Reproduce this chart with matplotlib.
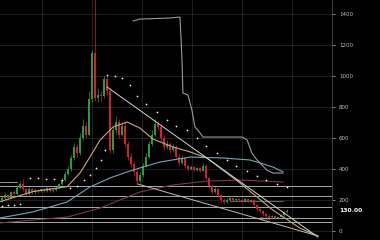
import numpy as np
import matplotlib
matplotlib.use('Agg')
import matplotlib.pyplot as plt

# ---------------- data ----------------
open_first = 200
close = [210, 230, 215, 250, 240, 280, 300, 270, 240, 270, 250, 265, 255, 270, 260, 275,
         260, 265, 280, 300, 330, 370, 400, 470, 540, 500, 600, 680, 620, 850, 1150, 860,
         880, 870, 980, 900, 520, 650, 700, 620, 680, 560, 480, 430, 380, 320, 360, 420,
         480, 560, 620, 690, 670, 600, 540, 560, 520, 540, 480, 440, 470, 420, 400, 410,
         395, 405, 390, 420, 340, 290, 250, 270, 230, 200, 185, 200, 210, 200, 205, 200,
         195, 205, 195, 200, 170, 140, 130, 110, 100, 90, 95, 85, 90, 105, 120, 130]
high = [225, 245, 240, 260, 262, 295, 325, 335, 280, 282, 278, 275, 272, 280, 276, 285,
        280, 275, 290, 310, 345, 385, 420, 490, 570, 560, 630, 720, 700, 900, 1170, 1800,
        920, 900, 1000, 1000, 920, 680, 740, 720, 700, 700, 580, 500, 450, 395, 380, 440,
        500, 580, 650, 720, 710, 690, 620, 590, 575, 560, 555, 495, 490, 480, 430, 425,
        420, 415, 415, 440, 430, 350, 300, 285, 275, 240, 210, 210, 218, 215, 212, 210,
        205, 212, 210, 208, 205, 175, 150, 135, 118, 108, 102, 100, 98, 112, 128, 140]
low = [190, 200, 205, 210, 228, 235, 272, 260, 225, 232, 238, 240, 245, 250, 250, 252,
       250, 252, 258, 275, 295, 325, 360, 390, 460, 480, 490, 590, 600, 610, 830, 840,
       830, 840, 860, 880, 500, 500, 630, 600, 610, 540, 460, 410, 360, 300, 310, 350,
       410, 470, 550, 610, 650, 580, 520, 530, 500, 510, 465, 425, 430, 405, 385, 395,
       385, 385, 380, 385, 330, 280, 240, 245, 220, 190, 175, 180, 195, 192, 195, 192,
       188, 190, 188, 190, 160, 130, 120, 100, 92, 80, 85, 72, 80, 86, 100, 115]

# overlay series (x in candle index, y in price)
gray_x = [43.7, 46, 56, 59.3, 59.7, 60, 60.3, 62, 63.3, 64.3, 65.3, 67, 80, 81.7, 83.3, 85, 88.3, 90.3, 93.7]
gray_y = [1355, 1367, 1374, 1380, 1232, 1103, 890, 877, 780, 671, 651, 606, 606, 587, 503, 458, 393, 374, 374]

tan_x = [-0.7, 10.3, 21.7, 26, 29.3, 32.7, 37, 41.7, 46, 50.3, 57, 62.7, 68.3, 79.3, 90.3, 99.3, 105.3]
tan_y = [189, 254, 286, 374, 477, 587, 671, 703, 664, 593, 542, 510, 471, 310, 135, 19, -32]

teal_x = [-0.7, 10.3, 21.7, 29.3, 36, 41.7, 47, 52.7, 62.7, 73.7, 82.7, 90.3, 93.7]
teal_y = [84, 123, 187, 284, 342, 381, 413, 445, 477, 471, 458, 413, 381]

maroon_x = [-0.7, 21.7, 32.7, 46, 57, 68.3, 79.3, 93.7]
maroon_y = [52, 90, 148, 252, 297, 322, 329, 316]

trend_hi_x = [35, 105.3]
trend_hi_y = [929, -39]
trend_lo_x = [45.3, 105.3]
trend_lo_y = [303, -32]

sar_x = [0, 2, 4, 6,
         9.3, 12, 14.7, 17.3, 20,
         22.7, 25, 27.3, 29.3, 31.3, 33, 34.3,
         35, 37.5, 40, 42.5, 45, 48, 51.5, 55, 58, 61.5, 65, 68, 71.5, 75, 78, 81.5, 85, 88, 91.5, 95]
sar_y = [160, 165, 170, 175,
         342, 340, 337, 333, 329,
         277, 290, 329, 361, 406, 458, 522,
         1006, 1000, 987, 942, 871, 819, 768, 716, 677, 651, 600, 548, 503, 458, 419, 387, 355, 329, 303, 284]

hlevels = [292, 226, 153, 86, 60]
short_level = 318
short_level_x = [-0.7, 5]
mid_level = 194
mid_level_x = [76, 93.7]

yticks = [0, 200, 400, 600, 800, 1000, 1200, 1400]
last_price = 130.00
low_label = "71.01"

# ---------------- plot ----------------
fig = plt.figure(figsize=(3.8, 2.4), dpi=100, facecolor='black')
ax = fig.add_axes([0, 0, 332 / 380, 1])
ax.set_facecolor('black')
ax.set_xlim(-2 / 3, 110)
ax.set_ylim(-58, 1490)

n = len(close)
xs = np.arange(n)
opens = [open_first] + close[:-1]
up = [c >= o for o, c in zip(opens, close)]
green, red = '#2f9a3c', '#d41f33'
cols = [green if u else red for u in up]

ax.vlines(xs, low, high, colors=cols, lw=0.5, zorder=3)
bottoms = [min(o, c) for o, c in zip(opens, close)]
heights = [max(abs(c - o), 3) for o, c in zip(opens, close)]
ax.bar(xs, heights, bottom=bottoms, width=0.6, color=cols, lw=0, zorder=3)

# horizontal levels
for lv in hlevels:
    ax.plot([-0.7, 110], [lv, lv], color='#c4c4c4', lw=0.6, zorder=2)
ax.plot(short_level_x, [short_level] * 2, color='#b0b0b0', lw=0.6, zorder=2)
ax.plot(mid_level_x, [mid_level] * 2, color='#8c8c8c', lw=0.5, zorder=2)

# moving averages and lines
ax.plot(maroon_x, maroon_y, color='#7a3848', lw=0.8, zorder=2)
ax.plot(teal_x, teal_y, color='#6fa9b5', lw=0.8, zorder=4)
ax.plot(tan_x, tan_y, color='#c9a77c', lw=0.8, zorder=4)
ax.plot(gray_x, gray_y, color='#9a9a9a', lw=0.8, zorder=4)
ax.plot(trend_hi_x, trend_hi_y, color='#d4d4d4', lw=0.7, zorder=4)
ax.plot(trend_lo_x, trend_lo_y, color='#bcbcbc', lw=0.7, zorder=4)
ax.scatter(sar_x, sar_y, s=1.6, color='#ececec', lw=0, zorder=5)

ax.text(87.8, 77, low_label, color='#9a9a9a', fontsize=3, ha='center', va='center', zorder=6)

# grid / axes
ax.set_yticks(yticks)
ax.set_yticklabels([str(v) for v in yticks])
ax.yaxis.tick_right()
ax.set_xticks([13.33, 30, 46.67, 63.33, 80, 96.67])
ax.set_xticklabels([])
ax.grid(True, color='#262626', lw=0.6, zorder=0)
ax.set_axisbelow(True)
ax.tick_params(axis='x', length=0)
ax.tick_params(axis='y', colors='#bfbfbf', labelsize=4, length=2, width=0.5, pad=3)
for s in ['top', 'left', 'bottom']:
    ax.spines[s].set_visible(False)
ax.spines['right'].set_color('#4a4a4a')
ax.spines['right'].set_linewidth(0.6)

ax.annotate(f"{last_price:.2f}", xy=(1, last_price), xycoords=('axes fraction', 'data'),
            xytext=(5, 0), textcoords='offset points', fontsize=4.3, fontweight='bold',
            color='white', va='center', ha='left', annotation_clip=False)

fig.savefig('out.png', dpi=100, facecolor='black')
